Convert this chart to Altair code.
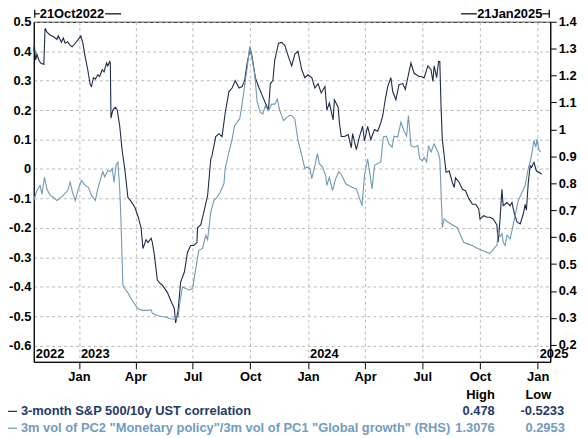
import altair as alt
import pandas as pd

# ---------------- data ----------------
corr_dates = [
    "2022-10-21", "2022-10-22", "2022-10-24", "2022-10-26", "2022-10-29", "2022-11-01", "2022-11-06",
    "2022-11-08", "2022-11-11", "2022-11-16", "2022-11-21", "2022-11-27", "2022-11-29", "2022-12-02",
    "2022-12-04", "2022-12-07", "2022-12-10", "2022-12-14", "2022-12-18", "2022-12-21", "2022-12-26",
    "2022-12-31", "2023-01-04", "2023-01-07", "2023-01-11", "2023-01-15", "2023-01-19", "2023-01-21",
    "2023-01-24", "2023-01-27", "2023-01-31", "2023-02-03", "2023-02-07", "2023-02-10", "2023-02-14",
    "2023-02-16", "2023-02-19", "2023-02-20", "2023-02-21", "2023-02-24", "2023-02-28", "2023-03-03",
    "2023-03-07", "2023-03-11", "2023-03-15", "2023-03-20", "2023-03-25", "2023-03-31", "2023-04-05",
    "2023-04-10", "2023-04-13", "2023-04-18", "2023-04-21", "2023-04-26", "2023-04-28", "2023-05-01",
    "2023-05-06", "2023-05-11", "2023-05-14", "2023-05-22", "2023-05-27", "2023-06-02", "2023-06-04",
    "2023-06-08", "2023-06-12", "2023-06-18", "2023-06-23", "2023-06-28", "2023-07-03", "2023-07-08",
    "2023-07-09", "2023-07-14", "2023-07-19", "2023-07-25", "2023-07-30", "2023-08-01", "2023-08-07",
    "2023-08-12", "2023-08-17", "2023-08-22", "2023-08-28", "2023-09-02", "2023-09-07", "2023-09-13",
    "2023-09-18", "2023-09-22", "2023-09-26", "2023-10-01", "2023-10-04", "2023-10-09", "2023-10-15",
    "2023-10-20", "2023-10-25", "2023-10-30", "2023-11-02", "2023-11-06", "2023-11-09", "2023-11-15",
    "2023-11-20", "2023-11-25", "2023-12-01", "2023-12-06", "2023-12-11", "2023-12-16", "2023-12-22",
    "2023-12-27", "2024-01-01", "2024-01-07", "2024-01-12", "2024-01-17", "2024-01-22", "2024-01-28",
    "2024-01-31", "2024-02-04", "2024-02-10", "2024-02-12", "2024-02-18", "2024-02-20", "2024-02-23",
    "2024-02-28", "2024-03-05", "2024-03-10", "2024-03-12", "2024-03-18", "2024-03-23", "2024-03-28",
    "2024-03-31", "2024-04-05", "2024-04-10", "2024-04-16", "2024-04-21", "2024-04-26", "2024-04-29",
    "2024-05-03", "2024-05-07", "2024-05-12", "2024-05-15", "2024-05-20", "2024-05-25", "2024-05-31",
    "2024-06-04", "2024-06-08", "2024-06-13", "2024-06-18", "2024-06-26", "2024-06-29", "2024-07-04",
    "2024-07-10", "2024-07-15", "2024-07-18", "2024-07-20", "2024-07-24", "2024-07-27", "2024-07-29",
    "2024-07-31", "2024-08-02", "2024-08-05", "2024-08-08", "2024-08-13", "2024-08-18", "2024-08-21",
    "2024-08-23", "2024-08-29", "2024-09-03", "2024-09-08", "2024-09-13", "2024-09-19", "2024-09-24",
    "2024-09-29", "2024-10-01", "2024-10-07", "2024-10-12", "2024-10-17", "2024-10-22", "2024-10-28",
    "2024-10-30", "2024-11-02", "2024-11-05", "2024-11-07", "2024-11-13", "2024-11-18", "2024-11-21",
    "2024-11-25", "2024-11-29", "2024-12-04", "2024-12-09", "2024-12-12", "2024-12-14", "2024-12-17",
    "2024-12-20", "2024-12-22", "2024-12-26", "2024-12-30", "2025-01-04", "2025-01-07",
]
corr_vals = [
    0.40, 0.42, 0.37, 0.39, 0.37, 0.36, 0.355,
    0.478, 0.465, 0.455, 0.45, 0.44, 0.452, 0.44,
    0.43, 0.445, 0.427, 0.432, 0.42, 0.415, 0.427,
    0.44, 0.452, 0.43, 0.38, 0.337, 0.286, 0.28,
    0.31, 0.305, 0.32, 0.314, 0.337, 0.33, 0.36,
    0.35, 0.365, 0.36, 0.173, 0.20, 0.21, 0.20,
    0.145, 0.06, 0.0, -0.097, -0.11, -0.13, -0.16,
    -0.20, -0.27, -0.24, -0.25, -0.235, -0.25, -0.29,
    -0.378, -0.39, -0.395, -0.42, -0.446, -0.474, -0.5233,
    -0.48, -0.384, -0.35, -0.283, -0.26, -0.26, -0.25,
    -0.20, -0.19, -0.147, -0.09, 0.033, 0.045, 0.11,
    0.12, 0.11, 0.19, 0.263, 0.275, 0.30, 0.275,
    0.28, 0.30, 0.36, 0.41, 0.38, 0.31, 0.275,
    0.25, 0.224, 0.20, 0.29, 0.30, 0.37, 0.427,
    0.43, 0.42, 0.38, 0.35, 0.39, 0.40, 0.337,
    0.31, 0.32, 0.31, 0.275, 0.29, 0.258, 0.28,
    0.20, 0.224, 0.167, 0.235, 0.21, 0.157, 0.11,
    0.11, 0.117, 0.072, 0.12, 0.066, 0.11, 0.145,
    0.095, 0.145, 0.10, 0.134, 0.128, 0.157, 0.18,
    0.235, 0.28, 0.31, 0.263, 0.235, 0.286, 0.29,
    0.27, 0.31, 0.36, 0.325, 0.314, 0.314, 0.31,
    0.35, 0.337, 0.297, 0.35, 0.31, 0.365, 0.365,
    0.21, 0.10, 0.045, -0.011, -0.007, -0.046, -0.063,
    -0.03, -0.046, -0.069, -0.074, -0.10, -0.12, -0.12,
    -0.136, -0.17, -0.159, -0.164, -0.164, -0.17, -0.19,
    -0.249, -0.17, -0.069, -0.125, -0.114, -0.125, -0.114,
    -0.153, -0.18, -0.187, -0.153, -0.12, -0.14, -0.046,
    0.011, 0.005, 0.022, -0.007, -0.012, -0.018,
]

vol_dates = [
    "2022-10-21", "2022-10-26", "2022-10-31", "2022-11-03", "2022-11-07", "2022-11-11", "2022-11-16",
    "2022-11-21", "2022-11-27", "2022-12-02", "2022-12-07", "2022-12-14", "2022-12-18", "2022-12-21",
    "2022-12-26", "2022-12-31", "2023-01-05", "2023-01-11", "2023-01-16", "2023-01-21", "2023-01-27",
    "2023-01-31", "2023-02-03", "2023-02-08", "2023-02-11", "2023-02-16", "2023-02-20", "2023-02-23",
    "2023-02-26", "2023-03-01", "2023-03-04", "2023-03-07", "2023-03-09", "2023-03-12", "2023-03-15",
    "2023-03-20", "2023-03-25", "2023-03-31", "2023-04-05", "2023-04-13", "2023-04-21", "2023-04-26",
    "2023-04-28", "2023-05-06", "2023-05-14", "2023-05-17", "2023-05-27", "2023-06-04", "2023-06-08",
    "2023-06-11", "2023-06-15", "2023-06-20", "2023-06-25", "2023-07-01", "2023-07-06", "2023-07-11",
    "2023-07-17", "2023-07-22", "2023-07-25", "2023-07-30", "2023-08-04", "2023-08-09", "2023-08-14",
    "2023-08-20", "2023-08-22", "2023-08-28", "2023-09-02", "2023-09-06", "2023-09-10", "2023-09-14",
    "2023-09-18", "2023-09-22", "2023-09-26", "2023-09-30", "2023-10-04", "2023-10-08", "2023-10-12",
    "2023-10-17", "2023-10-21", "2023-10-25", "2023-10-30", "2023-11-04", "2023-11-09", "2023-11-13",
    "2023-11-17", "2023-11-23", "2023-11-28", "2023-12-03", "2023-12-06", "2023-12-11", "2023-12-16",
    "2023-12-22", "2023-12-27", "2023-12-30", "2024-01-04", "2024-01-07", "2024-01-12", "2024-01-16",
    "2024-01-19", "2024-01-24", "2024-01-29", "2024-01-31", "2024-02-04", "2024-02-09", "2024-02-14",
    "2024-02-19", "2024-02-24", "2024-03-01", "2024-03-06", "2024-03-11", "2024-03-18", "2024-03-23",
    "2024-03-27", "2024-03-31", "2024-04-05", "2024-04-08", "2024-04-12", "2024-04-16", "2024-04-21",
    "2024-04-26", "2024-04-30", "2024-05-05", "2024-05-09", "2024-05-14", "2024-05-17", "2024-05-23",
    "2024-05-28", "2024-06-02", "2024-06-06", "2024-06-09", "2024-06-13", "2024-06-18", "2024-06-24",
    "2024-06-27", "2024-07-01", "2024-07-04", "2024-07-08", "2024-07-11", "2024-07-15", "2024-07-20",
    "2024-07-26", "2024-07-29", "2024-08-01", "2024-08-02", "2024-08-05", "2024-08-10", "2024-08-18",
    "2024-08-26", "2024-08-31", "2024-09-05", "2024-09-11", "2024-09-19", "2024-09-27", "2024-10-04",
    "2024-10-12", "2024-10-16", "2024-10-20", "2024-10-25", "2024-10-28", "2024-10-30", "2024-11-02",
    "2024-11-05", "2024-11-07", "2024-11-10", "2024-11-13", "2024-11-18", "2024-11-22", "2024-11-26",
    "2024-12-01", "2024-12-06", "2024-12-12", "2024-12-17", "2024-12-20", "2024-12-23", "2024-12-26",
    "2024-12-29", "2024-12-31", "2025-01-03", "2025-01-06",
]
vol_vals = [
    0.736, 0.773, 0.792, 0.760, 0.822, 0.779, 0.755,
    0.748, 0.736, 0.745, 0.755, 0.773, 0.804, 0.773,
    0.736, 0.779, 0.811, 0.792, 0.785, 0.755, 0.736,
    0.779, 0.804, 0.843, 0.824, 0.848, 0.844, 0.855,
    0.804, 0.867, 0.879, 0.778, 0.657, 0.421, 0.409,
    0.393, 0.372, 0.350, 0.334, 0.328, 0.328, 0.330,
    0.317, 0.309, 0.304, 0.304, 0.297, 0.2953, 0.304,
    0.361, 0.415, 0.409, 0.404, 0.409, 0.481, 0.551,
    0.558, 0.607, 0.591, 0.693, 0.736, 0.748, 0.767,
    0.798, 0.855, 0.916, 0.964, 1.014, 1.027, 1.038,
    1.094, 1.162, 1.228, 1.3076, 1.261, 1.206, 1.101,
    1.063, 1.058, 1.088, 1.070, 1.094, 1.094, 1.113,
    1.070, 1.033, 1.045, 1.052, 1.052, 1.038, 0.959,
    0.904, 0.855, 0.860, 0.855, 0.817, 0.867, 0.910,
    0.873, 0.861, 0.829, 0.792, 0.822, 0.773, 0.817,
    0.843, 0.829, 0.798, 0.792, 0.785, 0.779, 0.745,
    0.717, 0.829, 0.891, 0.844, 0.779, 0.867, 0.873,
    0.879, 0.972, 0.975, 0.946, 0.934, 0.975, 0.972,
    1.027, 0.995, 0.975, 1.052, 0.940, 0.934, 0.940,
    0.891, 0.884, 0.896, 0.879, 0.940, 0.916, 0.946,
    0.916, 0.891, 0.705, 0.635, 0.668, 0.657, 0.646,
    0.635, 0.607, 0.581, 0.575, 0.569, 0.558, 0.551,
    0.544, 0.539, 0.547, 0.563, 0.569, 0.619, 0.602,
    0.613, 0.581, 0.569, 0.607, 0.594, 0.635, 0.680,
    0.736, 0.760, 0.792, 0.855, 0.879, 0.916, 0.959,
    0.934, 0.964, 0.922, 0.916,
]

left_ticks = [-0.6, -0.5, -0.4, -0.3, -0.2, -0.1, 0.0, 0.1, 0.2, 0.3, 0.4, 0.5]
right_ticks = [0.2, 0.3, 0.4, 0.5, 0.6, 0.7, 0.8, 0.9, 1.0, 1.1, 1.2, 1.3, 1.4]
quarter_ticks = [(2023, 1), (2023, 4), (2023, 7), (2023, 10), (2024, 1), (2024, 4),
                 (2024, 7), (2024, 10), (2025, 1)]
year_labels = ["2022", "2023", "2024", "2025"]
year_dates = ["2022-10-21", "2023-01-01", "2024-01-01", "2025-01-01"]
start_label = "21Oct2022"
end_label = "21Jan2025"
series_names = ["3-month S&P 500/10y UST correlation",
                '3m vol of PC2 "Monetary policy"/3m vol of PC1 "Global growth" (RHS)']
high_vals = ["0.478", "1.3076"]
low_vals = ["-0.5233", "0.2953"]

# ---------------- styling ----------------
DARK = "#1c2b4c"
LIGHT = "#7099b0"
DARK_TXT = "#24396a"
LIGHT_TXT = "#6f9cc0"
GRID = "#b8b8b8"
FONT = "Liberation Sans"
W, H = 521, 343

corr_df = pd.DataFrame({"date": corr_dates, "corr": corr_vals})
vol_df = pd.DataFrame({"date": vol_dates, "vol": vol_vals})
year_df = pd.DataFrame({"date": year_dates, "label": year_labels})
one = pd.DataFrame({"k": [1]})

x_domain = [alt.DateTime(year=2022, month=10, date=21, utc=True),
            alt.DateTime(year=2025, month=1, date=21, utc=True)]
x_vals = [alt.DateTime(year=y, month=m, date=1, utc=True) for y, m in quarter_ticks]

x_enc = alt.X(
    "date:T",
    scale=alt.Scale(type="utc", domain=x_domain),
    axis=alt.Axis(values=x_vals, labelExpr="utcFormat(datum.value, '%b')", title=None,
                  grid=True, gridDash=[3, 3], gridColor=GRID, tickSize=7, tickColor="black",
                  domainColor="black", labelPadding=2, labelOverlap=False, labelFlush=False),
)

dark_line = alt.Chart(corr_df).mark_line(color=DARK, strokeWidth=1.1).encode(
    x=x_enc,
    y=alt.Y("corr:Q",
            scale=alt.Scale(domain=[-0.655, 0.5], nice=False, zero=False),
            axis=alt.Axis(orient="left", values=left_ticks, title=None, ticks=False,
                          labelPadding=3, grid=True, gridDash=[3, 3], gridColor=GRID,
                          domainColor="black",
                          labelExpr="datum.value == 0 ? '0' : (datum.value < 0 ? '-' : '') + format(abs(datum.value), '.1f')")),
)

light_line = alt.Chart(vol_df).mark_line(color=LIGHT, strokeWidth=1.1).encode(
    x=alt.X("date:T"),
    y=alt.Y("vol:Q",
            scale=alt.Scale(domain=[0.137, 1.4], nice=False, zero=False),
            axis=alt.Axis(orient="right", values=right_ticks, title=None, grid=False,
                          tickSize=6, tickColor="black", labelPadding=2, domainColor="black",
                          labelExpr="datum.value == 1 ? '1' : format(datum.value, '.1f')")),
)

txt = dict(font=FONT, fontSize=13, fontWeight="bold", baseline="middle")

years = alt.Chart(year_df).mark_text(align="left", color="black", dx=2, **txt).encode(
    x=alt.X("date:T"), y=alt.value(H - 8), text="label:N")

layers = [dark_line, light_line, years]

def t(s, x, y, align="left", color="black"):
    return alt.Chart(one).mark_text(align=align, color=color, **txt).encode(
        x=alt.value(x), y=alt.value(y), text=alt.value(s))

def r(x1, x2, y1, y2, color="black"):
    return alt.Chart(one).mark_rule(color=color, strokeWidth=1.2).encode(
        x=alt.value(x1), x2=alt.value(x2), y=alt.value(y1), y2=alt.value(y2))

# top range markers
layers += [
    r(1, 1, -12, -4), r(1, 6, -8, -8), t(start_label, 6, -8), r(72, 88, -8, -8),
    r(431, 447, -8, -8), t(end_label, 513, -8, align="right"), r(513, 520, -8, -8), r(520, 520, -12, -4),
]

# bottom legend
layers += [
    t("High", 465, 377, align="right"), t("Low", 496, 377),
    r(-26, -17, 393, 393, DARK), t(series_names[0], -13, 393, color=DARK_TXT),
    t(high_vals[0], 465, 393, align="right", color=DARK_TXT), t(low_vals[0], 491, 393, color=DARK_TXT),
    r(-26, -17, 410, 410, LIGHT), t(series_names[1], -13, 410, color=LIGHT_TXT),
    t(high_vals[1], 465, 410, align="right", color=LIGHT_TXT), t(low_vals[1], 496, 410, color=LIGHT_TXT),
]

chart = alt.layer(*layers).resolve_scale(y="independent").properties(
    width=W, height=H,
    autosize=alt.AutoSizeParams(type="none"),
    padding={"left": 26, "top": 12, "right": 30, "bottom": 75},
).configure_axis(
    labelFont=FONT, labelFontSize=13, labelFontWeight="bold", labelColor="black",
).configure_view(stroke="black", strokeWidth=1)

chart.save("out.html", embed_options={"renderer": "svg", "actions": False})
